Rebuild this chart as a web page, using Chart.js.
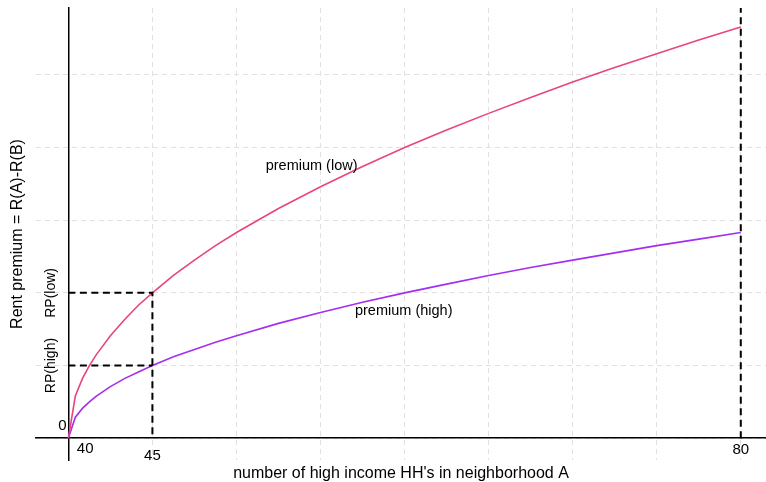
<!DOCTYPE html>
<html><head><meta charset="utf-8">
<script src="https://cdn.jsdelivr.net/npm/chart.js@4.4.1/dist/chart.umd.min.js"></script>
<style>html,body{margin:0;padding:0;background:#fff;}#wrap{width:766px;height:482px;}</style>
</head><body><div id="wrap"><canvas id="c" width="766" height="482"></canvas></div>
<script>
// ---- data ----
const xValues     = [0, 0.083, 0.167, 0.25, 0.333, 0.5, 0.667, 0.833, 1, 1.25, 1.5, 1.75, 2, 2.5, 3, 3.5, 4, 4.5, 5, 5.5, 6, 6.5, 7, 7.5, 8];
const premiumLow  = [0, 0.58, 0.82, 1.0, 1.15, 1.41, 1.63, 1.83, 2.0, 2.24, 2.45, 2.65, 2.83, 3.16, 3.46, 3.74, 4.0, 4.24, 4.47, 4.69, 4.90, 5.10, 5.29, 5.48, 5.66];
const premiumHigh = [0, 0.29, 0.41, 0.5, 0.58, 0.71, 0.82, 0.91, 1.0, 1.12, 1.22, 1.32, 1.41, 1.58, 1.73, 1.87, 2.0, 2.12, 2.24, 2.35, 2.45, 2.55, 2.65, 2.74, 2.83];
const seriesNames = ['premium (low)', 'premium (high)'];
const xTickLabels = ['40', '45', '80'];
const xTickValues = [0.2, 1, 8];
const yTickLabels = ['0', 'RP(high)', 'RP(low)'];
const yTickValues = [0, 1, 2];
const xGridValues = [0, 1, 2, 3, 4, 5, 6, 7, 8];
const yGridValues = [0, 1, 2, 3, 4, 5];
const xTitle = "number of high income HH's in neighborhood A";
const yTitle = 'Rent premium = R(A)-R(B)';

// ---- layout / style ----
const FAMILY = '"Liberation Sans", Arial, Helvetica, sans-serif';
Chart.defaults.font.family = FAMILY;
Chart.defaults.color = '#000';

const pts = (ys) => xValues.map((x, i) => ({x, y: ys[i]}));
const yTop = 5.92;

// label anchors (data units)
const textItems = [
  {text: seriesNames[0], x: 2.894, y: 3.74, size: 14.5},
  {text: seriesNames[1], x: 3.99, y: 1.744, size: 14.5},
  {text: xTickLabels[0], x: xTickValues[0], y: -0.145, size: 15},
  {text: xTickLabels[1], x: xTickValues[1], y: -0.245, size: 15},
  {text: xTickLabels[2], x: xTickValues[2], y: -0.165, size: 15},
  {text: yTickLabels[0], x: -0.02, y: 0.172, size: 15, align: 'right'},
  {text: yTickLabels[1], x: -0.2, y: yTickValues[1], size: 14, rotate: true},
  {text: yTickLabels[2], x: -0.2, y: yTickValues[2], size: 14, rotate: true}
];

const textPlugin = {
  id: 'textPlugin',
  afterDatasetsDraw(chart) {
    const {ctx, chartArea: a, scales: {x, y}} = chart;
    ctx.save();
    ctx.beginPath();
    ctx.rect(a.left, a.top, a.right - a.left, a.bottom - a.top);
    ctx.clip();
    ctx.fillStyle = '#000';
    textItems.forEach(t => {
      ctx.save();
      ctx.font = t.size + 'px ' + FAMILY;
      ctx.textAlign = t.align || 'center';
      ctx.textBaseline = 'middle';
      ctx.translate(x.getPixelForValue(t.x), y.getPixelForValue(t.y));
      if (t.rotate) ctx.rotate(-Math.PI / 2);
      ctx.fillText(t.text, 0, 0);
      ctx.restore();
    });
    ctx.restore();
  }
};

const guide = {borderColor: '#000', borderWidth: 2, borderDash: [7, 4.5], pointRadius: 0, fill: false, tension: 0};

new Chart(document.getElementById('c'), {
  type: 'scatter',
  data: {
    datasets: [
      Object.assign({data: [{x: 0, y: yTickValues[2]}, {x: xTickValues[1], y: yTickValues[2]}, {x: xTickValues[1], y: 0}], showLine: true}, guide),
      Object.assign({data: [{x: 0, y: yTickValues[1]}, {x: xTickValues[1], y: yTickValues[1]}], showLine: true}, guide),
      Object.assign({data: [{x: xTickValues[2], y: 0}, {x: xTickValues[2], y: yTop}], showLine: true}, guide),
      {label: seriesNames[0], data: pts(premiumLow), showLine: true, borderColor: '#e8457c', borderWidth: 1.6, pointRadius: 0, tension: 0},
      {label: seriesNames[1], data: pts(premiumHigh), showLine: true, borderColor: '#a42ef0', borderWidth: 1.6, pointRadius: 0, tension: 0}
    ]
  },
  options: {
    responsive: false,
    animation: false,
    devicePixelRatio: 1,
    layout: {padding: {top: 8, left: 0, right: 0, bottom: 0}},
    plugins: {
      legend: {display: false},
      tooltip: {enabled: false},
      title: {display: true, text: yTitle, position: 'left', fullSize: false, color: '#000',
              font: {size: 16, weight: 'normal', lineHeight: 1}, padding: {top: 10, bottom: 10}},
      subtitle: {display: true, text: xTitle, position: 'bottom', fullSize: false, color: '#000',
              font: {size: 16, weight: 'normal', lineHeight: 1}, padding: {top: 6, bottom: 0}}
    },
    scales: {
      x: {
        type: 'linear', min: -0.385, max: 8.3, position: {y: 0},
        afterBuildTicks: s => { s.ticks = xGridValues.map(v => ({value: v})); },
        ticks: {display: false},
        grid: {color: '#e0e0e0', lineWidth: 1, drawTicks: false},
        border: {display: true, color: '#000', width: 1.5, dash: [5, 4]}
      },
      y: {
        type: 'linear', min: -0.3, max: yTop, position: {x: 0},
        afterBuildTicks: s => { s.ticks = yGridValues.map(v => ({value: v})); },
        ticks: {display: false},
        grid: {color: '#e0e0e0', lineWidth: 1, drawTicks: false},
        border: {display: true, color: '#000', width: 1.5, dash: [5, 4]}
      }
    }
  },
  plugins: [textPlugin]
});
</script>
</body></html>
